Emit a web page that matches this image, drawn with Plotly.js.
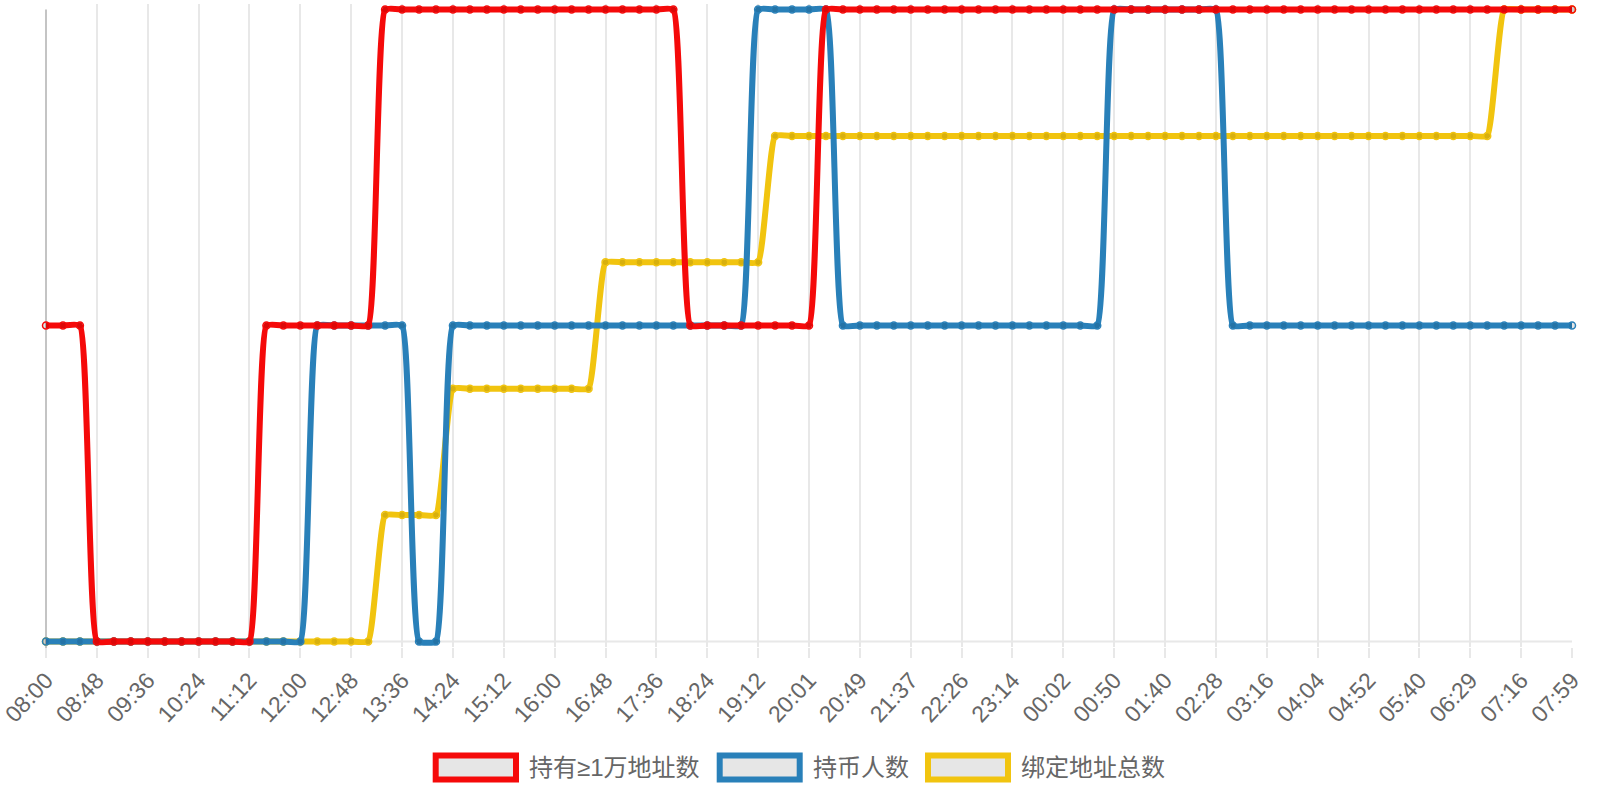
<!DOCTYPE html>
<html>
<head>
<meta charset="utf-8">
<script src="https://cdn.plot.ly/plotly-3.0.1.min.js"></script>
<style>
  html, body { margin: 0; padding: 0; background: #fff; }
  #chart { width: 1600px; height: 800px; }
</style>
</head>
<body>
<div id="chart"></div>
<script>
// ---- data ----
var timeLabels = [
  "08:00","08:16","08:32","08:48","09:04","09:20","09:36","09:52","10:08","10:24",
  "10:40","10:56","11:12","11:28","11:44","12:00","12:16","12:32","12:48","13:04",
  "13:20","13:36","13:52","14:08","14:24","14:40","14:56","15:12","15:28","15:44",
  "16:00","16:16","16:32","16:48","17:04","17:20","17:36","17:52","18:08","18:24",
  "18:40","18:56","19:12","19:28","19:44","20:01","20:17","20:33","20:49","21:05",
  "21:21","21:37","21:53","22:10","22:26","22:42","22:58","23:14","23:30","23:46",
  "00:02","00:18","00:34","00:50","01:07","01:23","01:40","01:56","02:12","02:28",
  "02:44","03:00","03:16","03:32","03:48","04:04","04:20","04:36","04:52","05:08",
  "05:24","05:40","05:57","06:13","06:29","06:45","07:00","07:16","07:30","07:45",
  "07:59"
];

var tickLabels = [
  "08:00","08:48","09:36","10:24","11:12","12:00","12:48","13:36","14:24","15:12",
  "16:00","16:48","17:36","18:24","19:12","20:01","20:49","21:37","22:26","23:14",
  "00:02","00:50","01:40","02:28","03:16","04:04","04:52","05:40","06:29","07:16",
  "07:59"
];

var seriesNames = ["持有≥1万地址数", "持币人数", "绑定地址总数"];

// 持有≥1万地址数
var holdersOver10k = [
  1,1,1,0,0,0,0,0,0,0,
  0,0,0,1,1,1,1,1,1,1,
  2,2,2,2,2,2,2,2,2,2,
  2,2,2,2,2,2,2,2,1,1,
  1,1,1,1,1,1,2,2,2,2,
  2,2,2,2,2,2,2,2,2,2,
  2,2,2,2,2,2,2,2,2,2,
  2,2,2,2,2,2,2,2,2,2,
  2,2,2,2,2,2,2,2,2,2,
  2
];

// 持币人数
var holders = [
  0,0,0,0,0,0,0,0,0,0,
  0,0,0,0,0,0,1,1,1,1,
  1,1,0,0,1,1,1,1,1,1,
  1,1,1,1,1,1,1,1,1,1,
  1,1,2,2,2,2,2,1,1,1,
  1,1,1,1,1,1,1,1,1,1,
  1,1,1,2,2,2,2,2,2,2,
  1,1,1,1,1,1,1,1,1,1,
  1,1,1,1,1,1,1,1,1,1,
  1
];

// 绑定地址总数
var boundAddresses = [
  0,0,0,0,0,0,0,0,0,0,
  0,0,0,0,0,0,0,0,0,0,
  1,1,1,1,2,2,2,2,2,2,
  2,2,2,3,3,3,3,3,3,3,
  3,3,3,4,4,4,4,4,4,4,
  4,4,4,4,4,4,4,4,4,4,
  4,4,4,4,4,4,4,4,4,4,
  4,4,4,4,4,4,4,4,4,4,
  4,4,4,4,4,4,5,5,5,5,
  5
];

var colors = ["#f50a0a", "#2980b9", "#f1c40f"];

// ---- geometry (pixels) ----
var W = 1600, H = 800;
var areaTop = 9.3, areaBottom = 641.7;   // chart area of the reference
var pad = 5.5;                           // extra room so thick lines are not clipped
var mL = 46, mR = 28;
var mT = areaTop - pad, mB = H - areaBottom - pad;
var plotW = W - mL - mR, plotH = H - mT - mB;
function px2paperX(px) { return (px - mL) / plotW; }
function px2paperY(py) { return (H - mB - py) / plotH; }
function paddedRange(maxVal) {
  var perPx = maxVal / (areaBottom - areaTop);
  return [-pad * perPx, maxVal + pad * perPx];
}
function maxOf(a) { return Math.max.apply(null, a); }

function mkTrace(yvals, name, color, yaxis) {
  return {
    type: "scatter",
    mode: "lines+markers",
    x: timeLabels,
    y: yvals,
    name: name,
    yaxis: yaxis,
    cliponaxis: false,
    line: { color: color, width: 6, shape: "spline", smoothing: 0.4 },
    marker: { size: 7, color: "rgba(0,0,0,0.1)", line: { color: color, width: 1.5 } },
    hoverinfo: "x+y+name"
  };
}

// overlaying subplots stack in axis order: y (bottom) -> y2 -> y3 (top)
var data = [
  mkTrace(boundAddresses, seriesNames[2], colors[2], "y"),
  mkTrace(holders, seriesNames[1], colors[1], "y2"),
  mkTrace(holdersOver10k, seriesNames[0], colors[0], "y3")
];

var fontFam = "'Liberation Sans', Arial, 'Noto Sans CJK SC', sans-serif";
var gridCol = "#e8e8e8";

// custom legend (Chart.js-style boxes)
var legendItems = [
  { name: seriesNames[0], color: colors[0], x0: 435.7, x1: 516, tx: 527 },
  { name: seriesNames[1], color: colors[1], x0: 719.7, x1: 799.7, tx: 811 },
  { name: seriesNames[2], color: colors[2], x0: 928, x1: 1008, tx: 1018.5 }
];
var shapes = [
  // hide gridline ends above the chart area
  { type: "rect", xref: "paper", yref: "paper", x0: -0.01, x1: 1.01,
    y0: px2paperY(areaTop - 0.5), y1: 1.02, line: { width: 0 }, fillcolor: "#ffffff", layer: "between" },
  // x-axis border line
  { type: "line", xref: "paper", yref: "paper", x0: 0, x1: 1,
    y0: px2paperY(areaBottom), y1: px2paperY(areaBottom),
    line: { color: gridCol, width: 2 }, layer: "between" },
  // darker first (zero) gridline, extending into the tick area
  { type: "line", xref: "paper", yref: "paper", x0: 0, x1: 0,
    y0: px2paperY(657), y1: px2paperY(areaTop), line: { color: "#c4c4c4", width: 2 }, layer: "between" }
];
var annotations = [];
legendItems.forEach(function (it) {
  shapes.push({
    type: "rect", xref: "paper", yref: "paper",
    x0: px2paperX(it.x0), x1: px2paperX(it.x1),
    y0: px2paperY(779.7), y1: px2paperY(755.7),
    line: { color: it.color, width: 6 }, fillcolor: "#e6e6e6", layer: "above"
  });
  annotations.push({
    xref: "paper", yref: "paper", x: px2paperX(it.tx), y: px2paperY(768),
    xanchor: "left", yanchor: "middle", showarrow: false, text: it.name,
    font: { family: fontFam, size: 24, color: "#666666" }
  });
});

var layout = {
  width: W, height: H,
  margin: { l: mL, r: mR, t: mT, b: mB, pad: 0 },
  paper_bgcolor: "#ffffff", plot_bgcolor: "#ffffff",
  showlegend: false,
  font: { family: fontFam, color: "#666666" },
  xaxis: {
    type: "category",
    categoryorder: "array", categoryarray: timeLabels,
    range: [0, timeLabels.length - 1],
    tickmode: "array", tickvals: tickLabels, ticktext: tickLabels,
    tickangle: -47,
    tickfont: { family: fontFam, size: 23, color: "#666666" },
    ticks: "outside", ticklen: 657 - (areaBottom + pad), tickwidth: 2, tickcolor: gridCol,
    showgrid: true, gridcolor: gridCol, gridwidth: 2,
    showline: false, zeroline: false, fixedrange: true
  },
  yaxis: {
    range: paddedRange(maxOf(boundAddresses)), showgrid: false, zeroline: false,
    showticklabels: false, ticks: "", showline: false, fixedrange: true
  },
  yaxis2: {
    range: paddedRange(maxOf(holders)), overlaying: "y", visible: false, fixedrange: true
  },
  yaxis3: {
    range: paddedRange(maxOf(holdersOver10k)), overlaying: "y", visible: false, fixedrange: true
  },
  shapes: shapes,
  annotations: annotations
};

Plotly.newPlot("chart", data, layout, { displayModeBar: false, staticPlot: true });
</script>
</body>
</html>
